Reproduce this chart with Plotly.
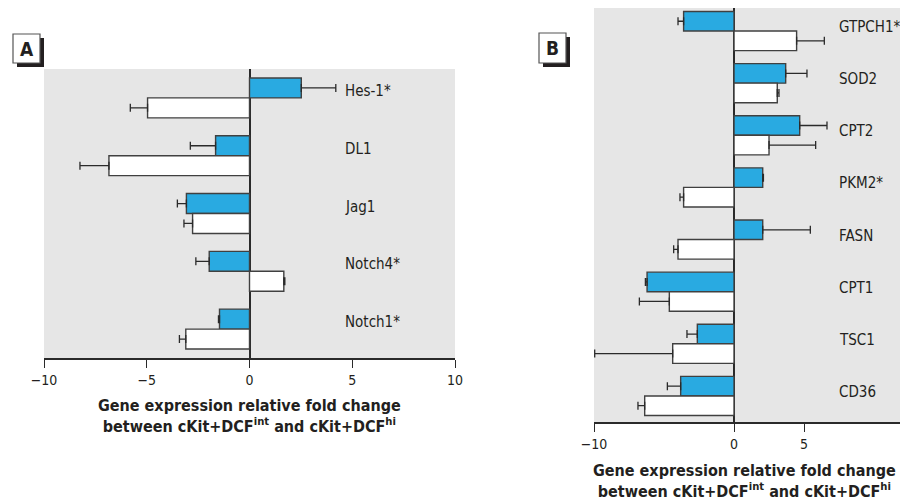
import plotly.graph_objects as go

# ---------------- data ----------------
genes_a = ["Hes-1*", "DL1", "Jag1", "Notch4*", "Notch1*"]
blue_a = [2.52, -1.65, -3.07, -1.96, -1.46]
blue_a_err = [1.68, 1.23, 0.44, 0.65, 0.05]
white_a = [-4.96, -6.84, -2.77, 1.67, -3.10]
white_a_err = [0.84, 1.41, 0.42, 0.05, 0.31]

genes_b = ["GTPCH1*", "SOD2", "CPT2", "PKM2*", "FASN", "CPT1", "TSC1", "CD36"]
blue_b = [-3.60, 3.69, 4.69, 2.05, 2.05, -6.21, -2.62, -3.81]
blue_b_err = [0.40, 1.52, 1.95, 0.05, 3.40, 0.12, 0.74, 0.95]
white_b = [4.47, 3.09, 2.50, -3.60, -4.00, -4.62, -4.38, -6.38]
white_b_err = [1.98, 0.12, 3.33, 0.26, 0.31, 2.14, 5.57, 0.48]

ticks_a = [-10, -5, 0, 5, 10]
ticks_b = [-10, 0, 5]

# ---------------- style ----------------
# the page body has an 8px margin, so the figure is 8px smaller and all
# window-pixel positions are shifted by 8
OFF = 8
W, H = 908 - OFF, 502 - OFF
FONT = "Liberation Sans Narrow, DejaVu Sans Condensed, Roboto, sans-serif"
BLUE = "#29aae1"
EDGE = "#404040"
BG = "#e6e6e6"
TXT = "#231f20"


def px(x):
    return (x - OFF) / W


def py(y):
    return 1 - (y - OFF) / H


def err_parts(vals, errs):
    plus = [e if v >= 0 else 0 for v, e in zip(vals, errs)]
    minus = [e if v < 0 else 0 for v, e in zip(vals, errs)]
    return plus, minus


def bar(vals, errs, cats, color, xa, ya, width):
    plus, minus = err_parts(vals, errs)
    return go.Bar(
        x=vals, y=cats, orientation="h", xaxis=xa, yaxis=ya,
        width=width, offset=-width if color != "white" else 0,
        marker=dict(color=color, line=dict(color=EDGE, width=1.4)),
        error_x=dict(type="data", symmetric=False, array=plus, arrayminus=minus,
                     color="#2a2a2a", thickness=1.3, width=4),
        showlegend=False, hoverinfo="skip",
    )


fig = go.Figure()
fig.add_trace(bar(blue_a, blue_a_err, genes_a, BLUE, "x", "y", 0.345))
fig.add_trace(bar(white_a, white_a_err, genes_a, "white", "x", "y", 0.345))
fig.add_trace(bar(blue_b, blue_b_err, genes_b, BLUE, "x2", "y2", 0.375))
fig.add_trace(bar(white_b, white_b_err, genes_b, "white", "x2", "y2", 0.375))

xaxis_common = dict(
    showgrid=False, zeroline=True, zerolinecolor="#2a2a2a", zerolinewidth=1.5,
    showline=True, linecolor="#2a2a2a", linewidth=1.5, automargin=False,
    ticks="outside", ticklen=8, tickwidth=1.3, tickcolor="#2a2a2a",
    tickfont=dict(family=FONT, size=14, color=TXT),
)
yaxis_common = dict(showgrid=False, showticklabels=False, ticks="", showline=False,
                    zeroline=False, automargin=False, type="category")

fig.update_layout(
    template="none",
    width=W, height=H, autosize=False,
    margin=dict(l=0, r=0, t=0, b=0, pad=0),
    paper_bgcolor="white",
    barmode="overlay",
    xaxis=dict(domain=[px(44), px(455)], range=[-10, 10], tickvals=ticks_a,
               anchor="y", **xaxis_common),
    yaxis=dict(domain=[py(358), py(69)], range=[4.5, -0.5], anchor="x",
               **yaxis_common),
    xaxis2=dict(domain=[px(594), px(904)], range=[-10, 12.14], tickvals=ticks_b,
                anchor="y2", **xaxis_common),
    yaxis2=dict(domain=[py(422), py(8)], range=[7.5, -0.442], anchor="x2",
                **yaxis_common),
    plot_bgcolor=BG,
)

annotations = []
for g in genes_a:
    annotations.append(dict(x=4.55, y=g, xref="x", yref="y", text=g, showarrow=False,
                            xanchor="left", yanchor="middle", yshift=7,
                            font=dict(family=FONT, size=15, color=TXT)))
for g in genes_b:
    annotations.append(dict(x=7.38, y=g, xref="x2", yref="y2", text=g, showarrow=False,
                            xanchor="left", yanchor="middle", yshift=4,
                            font=dict(family=FONT, size=15, color=TXT)))

title = "Gene expression relative fold change<br>between cKit+DCF<sup>int</sup> and cKit+DCF<sup>hi</sup>"
annotations.append(dict(x=px(249), y=py(416), xref="paper", yref="paper", text="<b>" + title + "</b>",
                        showarrow=False, xanchor="center", yanchor="middle",
                        font=dict(family=FONT, size=16, color=TXT)))
annotations.append(dict(x=px(744), y=py(481), xref="paper", yref="paper", text="<b>" + title + "</b>",
                        showarrow=False, xanchor="center", yanchor="middle",
                        font=dict(family=FONT, size=16, color=TXT)))

shapes = []
for (x0, y0, x1, y1, lab) in [(13, 34, 40, 63, "A"), (539, 33, 566, 63, "B")]:
    shapes.append(dict(type="rect", xref="paper", yref="paper",
                       x0=px(x0 + 4), x1=px(x1 + 4), y0=py(y0 + 4), y1=py(y1 + 4),
                       fillcolor="#231f20", line=dict(width=0)))
    shapes.append(dict(type="rect", xref="paper", yref="paper",
                       x0=px(x0), x1=px(x1), y0=py(y0), y1=py(y1),
                       fillcolor="white", line=dict(color="#555555", width=1.2)))
    annotations.append(dict(x=px((x0 + x1) / 2), y=py((y0 + y1) / 2), xref="paper", yref="paper",
                            text="<b>" + lab + "</b>", showarrow=False,
                            xanchor="center", yanchor="middle",
                            font=dict(family=FONT, size=19, color=TXT)))

fig.update_layout(annotations=annotations, shapes=shapes)
fig.write_html("out.html")
